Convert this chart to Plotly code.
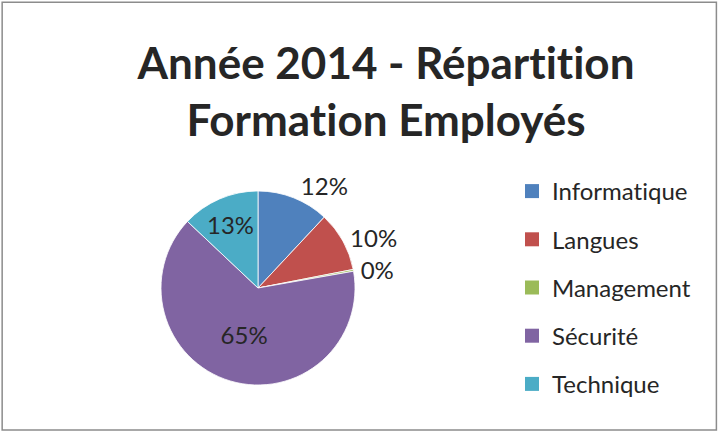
import plotly.graph_objects as go

# data
categories = ["Informatique", "Langues", "Management", "Sécurité", "Technique"]
values = [12, 10, 0.3, 65, 13]
colors = ["#4F81BD", "#C0504D", "#9BBB59", "#8064A2", "#4BACC6"]
label_pos = ["outside", "outside", "outside", "inside", "inside"]

FONT = "Lato"
TXT = "#262626"


def no_liga(s):
    # Lato joins "ti" by default, the original font does not
    return "<span style='font-variant-ligatures:none'>" + s + "</span>"


fig = go.Figure()

fig.add_trace(go.Pie(
    labels=categories,
    values=values,
    sort=False,
    direction="clockwise",
    rotation=0,
    marker=dict(colors=colors, line=dict(color="white", width=0.8)),
    texttemplate="%{percent:.0%}",
    textposition=label_pos,
    textfont=dict(family=FONT, size=24, color=TXT),
    insidetextorientation="horizontal",
    showlegend=False,
    domain=dict(x=[161 / 720, 355 / 720], y=[48 / 433, 242 / 433]),
    hoverinfo="label+percent",
))

# legend entries as separate traces so the spacing can match the original
for name, c in zip(categories, colors):
    fig.add_trace(go.Scatter(
        x=[None], y=[None], mode="markers", name=no_liga(name), legendgroup=name,
        marker=dict(symbol="square", size=14, color=c),
    ))

title = no_liga("<b>Année 2014 - Répartition<br>Formation Employés</b>")

fig.update_layout(
    width=720, height=433,
    margin=dict(l=0, r=0, t=0, b=0),
    paper_bgcolor="white", plot_bgcolor="white",
    font=dict(family=FONT, color=TXT),
    title=dict(
        text=title,
        x=386 / 720, xanchor="center",
        y=1 - 79 / 433, yanchor="top",
        font=dict(family=FONT, size=44, color=TXT),
    ),
    xaxis=dict(visible=False), yaxis=dict(visible=False),
    legend=dict(
        x=512 / 720, xanchor="left",
        y=1 - 169 / 433, yanchor="top",
        font=dict(family=FONT, size=24, color=TXT),
        tracegroupgap=14,
        itemwidth=30,
        bgcolor="rgba(0,0,0,0)",
    ),
    shapes=[dict(
        type="rect", xref="paper", yref="paper",
        x0=0.003, x1=0.995, y0=0.007, y1=0.995,
        line=dict(color="#8C8C8C", width=1.5),
    )],
)

fig.write_html("out.html", config={"displayModeBar": False},
               post_script="document.body.style.margin='0';")
